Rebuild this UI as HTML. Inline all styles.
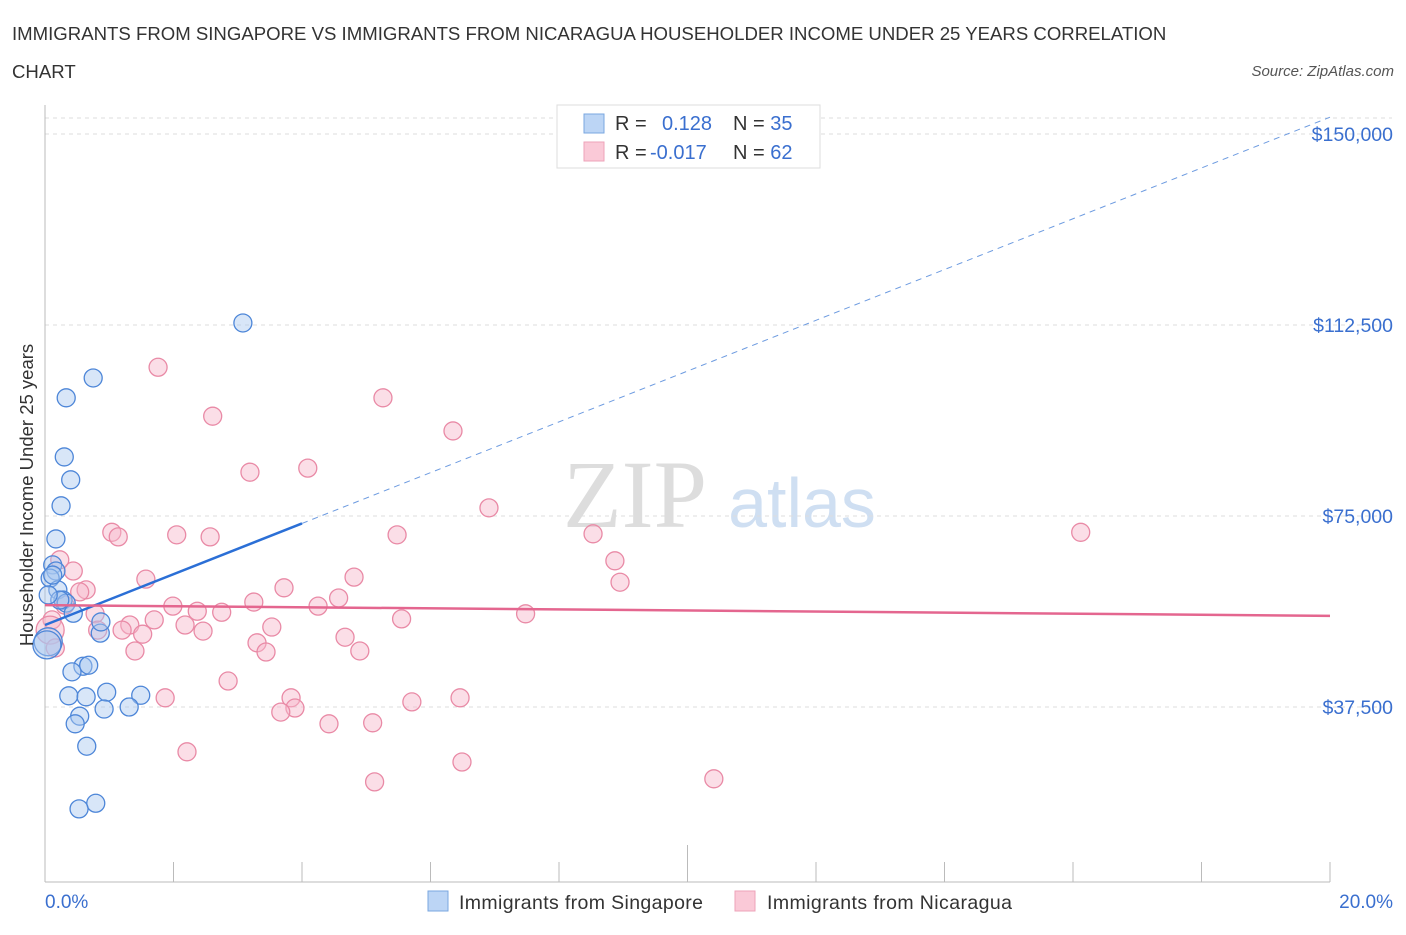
<!DOCTYPE html>
<html><head><meta charset="utf-8"><style>
body{margin:0;background:#fff;font-family:"Liberation Sans",sans-serif}
</style></head><body>
<svg width="1406" height="930" xmlns="http://www.w3.org/2000/svg" font-family="Liberation Sans, sans-serif">
<text x="12" y="40" font-size="18.6" fill="#333">IMMIGRANTS FROM SINGAPORE VS IMMIGRANTS FROM NICARAGUA HOUSEHOLDER INCOME UNDER 25 YEARS CORRELATION</text>
<text x="12" y="78" font-size="18.6" fill="#333">CHART</text>
<text x="1394" y="76" font-size="15" fill="#555" font-style="italic" text-anchor="end">Source: ZipAtlas.com</text>
<text x="635" y="527" font-size="96" fill="#ddd" font-family="Liberation Serif, serif" text-anchor="middle">ZIP</text>
<text x="802" y="527" font-size="70" fill="#cfdff2" text-anchor="middle">atlas</text>
<g id="grid"></g><g id="axes"></g><g id="pts"></g><g id="lines"></g>
<text x="33" y="495" font-size="18.5" fill="#333" transform="rotate(-90 33 495)" text-anchor="middle">Householder Income Under 25 years</text>
<text x="45" y="908" font-size="19" fill="#3a6fcf">0.0%</text>
<text x="1393" y="908" font-size="19" fill="#3a6fcf" text-anchor="end">20.0%</text>
<g>
<rect x="557" y="105" width="263" height="63" fill="#fff" stroke="#ddd"/>
<rect x="584" y="114" width="20" height="19" fill="#bcd5f5" stroke="#7aa7e0"/>
<rect x="584" y="142" width="20" height="19" fill="#fac9d7" stroke="#eea3b9"/>
<text x="615" y="130" font-size="20" fill="#333">R = <tspan fill="#3a6fcf" x="662">0.128</tspan><tspan x="733" fill="#333">N = </tspan><tspan fill="#3a6fcf">35</tspan></text>
<text x="615" y="159" font-size="20" fill="#333">R = <tspan fill="#3a6fcf" x="650">-0.017</tspan><tspan x="733" fill="#333">N = </tspan><tspan fill="#3a6fcf">62</tspan></text>
</g>
<g>
<rect x="428" y="891" width="20" height="20" fill="#bcd5f5" stroke="#7aa7e0"/>
<text x="459" y="909" font-size="19.5" fill="#333" textLength="244">Immigrants from Singapore</text>
<rect x="735" y="891" width="20" height="20" fill="#fac9d7" stroke="#eea3b9"/>
<text x="767" y="909" font-size="19.5" fill="#333" textLength="245">Immigrants from Nicaragua</text>
</g>
</svg>
<script>
const yTicks=[37500,75000,112500,150000];
const yTickLabels=["$37,500","$75,000","$112,500","$150,000"];
const blueX=[3.08,0.75,0.33,0.30,0.40,0.25,0.17,0.12,0.17,0.08,0.20,0.28,0.33,0.44,0.86,0.87,0.05,0.03,0.59,0.68,0.42,0.37,0.64,0.96,1.49,0.92,1.31,0.54,0.47,0.65,0.79,0.53,0.23,0.05,0.12];
const blueY=[112900,102100,98200,86600,82100,77000,70500,65400,64200,62800,60500,58500,57900,55900,52000,54200,50300,49700,45500,45700,44400,39700,39500,40400,39800,37100,37500,35700,34200,29800,18600,17500,58500,59500,63400];
const pinkX=[1.76,5.26,2.61,6.35,4.09,3.19,6.91,16.12,1.04,1.14,2.05,2.57,5.48,8.53,8.87,8.95,4.81,1.57,0.44,0.64,0.54,3.72,4.57,3.25,1.99,2.37,4.25,2.75,0.78,1.70,5.55,7.48,1.32,2.18,3.53,0.82,1.20,1.52,2.46,4.67,3.30,1.40,3.44,4.90,0.11,0.08,2.85,1.87,3.83,6.46,5.71,3.89,3.67,4.42,5.10,2.21,6.49,5.13,10.41,0.23,0.16,0.31];
const pinkY=[104200,98200,94600,91700,84400,83600,76600,71800,71800,70900,71300,70900,71300,71500,66200,62000,63000,62600,64200,60500,60100,60900,58900,58100,57300,56300,57300,56100,55800,54600,54800,55800,53600,53600,53200,52600,52600,51800,52400,51200,50100,48500,48300,48500,54600,52600,42600,39300,39300,39300,38500,37300,36500,34200,34400,28700,26700,22800,23400,66400,49100,57500];
const blueTrend=[53600,153300];
const pinkTrend=[57500,55400];
const sx=v=>45+v/20*1285;
const sy=v=>898-v/37500*191;
const NS="http://www.w3.org/2000/svg";
function mk(t,a,p){const e=document.createElementNS(NS,t);for(const k in a)e.setAttribute(k,a[k]);p.appendChild(e);return e;}
const grid=document.getElementById('grid'),axes=document.getElementById('axes'),pts=document.getElementById('pts'),lines=document.getElementById('lines');
yTicks.forEach((t,i)=>{
 const l=mk('line',{x1:45,x2:1392,y1:sy(t),y2:sy(t),stroke:'#ddd','stroke-dasharray':'4,4'},grid);
 
 
 const tx=mk('text',{x:1393,y:sy(t)+7,'font-size':19.5,fill:'#3a6fcf','text-anchor':'end'},grid);
 tx.textContent=yTickLabels[i];
 
 
});
mk('line',{x1:45,x2:1392,y1:118,y2:118,stroke:'#ddd','stroke-dasharray':'4,4'},grid);
const ya=mk('line',{x1:45,x2:45,y1:105,y2:882,stroke:'#bbb'},axes);


const xa=mk('line',{x1:45,x2:1330,y1:882,y2:882,stroke:'#bbb'},axes);


for(let i=0;i<=10;i++){
 const t=mk('line',{x1:sx(i*2),x2:sx(i*2),y1:i==5?845:862,y2:882,stroke:'#bbb'},axes);
 
 
}
function dots(X,Y,fill,stroke,name){
 X.forEach((x,i)=>{
  const big=x<0.12&&Y[i]<53000;
  const c=mk('circle',{cx:sx(x),cy:sy(Y[i]),r:big?14:9,fill:fill,'fill-opacity':0.45,stroke:stroke,'stroke-width':1.3},pts);
  
  
 });
}
dots(pinkX,pinkY,'#f7b6c9','#e98aa6','nicaragua-point');
dots(blueX,blueY,'#a9c8f0','#4d86d8','singapore-point');
const bAt=x=>blueTrend[0]+(blueTrend[1]-blueTrend[0])*x/20;
const b1=mk('line',{x1:sx(0),y1:sy(bAt(0)),x2:sx(4),y2:sy(bAt(4)),stroke:'#2b6fd6','stroke-width':2.5},lines);


const b2=mk('line',{x1:sx(4),y1:sy(bAt(4)),x2:sx(20),y2:sy(bAt(20)),stroke:'#6d9be0','stroke-width':1,'stroke-dasharray':'6,5'},lines);


const p1=mk('line',{x1:sx(0),y1:sy(pinkTrend[0]),x2:sx(20),y2:sy(pinkTrend[1]),stroke:'#e4668f','stroke-width':2.5},lines);


</script>
</body></html>
